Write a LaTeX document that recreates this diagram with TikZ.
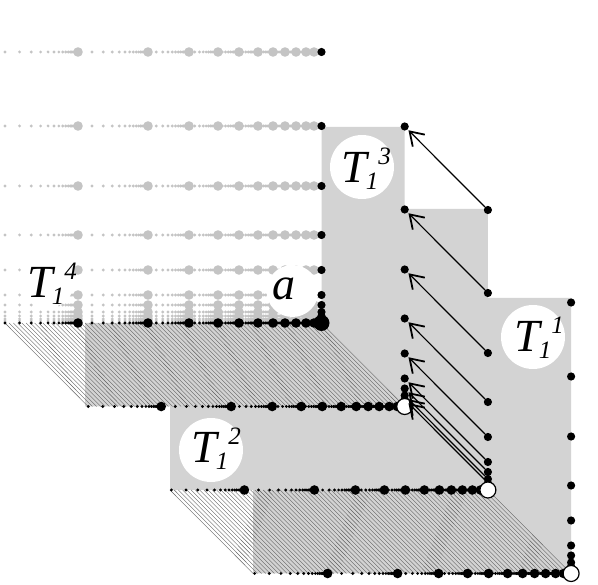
\documentclass[tikz,border=0pt]{standalone}
\usepackage{fontspec}
\setmainfont{Liberation Serif}
\usetikzlibrary{arrows.meta}
\definecolor{gfill}{RGB}{211,211,211}
\definecolor{gdot}{RGB}{196,196,196}
\definecolor{hatchc}{RGB}{95,95,95}

\newcommand\bigxs{78,148,189,218,239,258,273,285,296,306,314,321}
% #1 y, #2 x shift, #3 colour, #4 small radius, #5 big radius
\newcommand\dotrow[5]{%
  \xdef\prevx{5}%
  \fill[#3] (5+#2,#1) circle[radius=#4pt];
  \foreach \bx in \bigxs {%
    \pgfmathsetmacro\LL{\bx-\prevx}%
    \foreach \jj in {1,...,16} {%
      \pgfmathsetmacro\dd{\LL*0.8^\jj}%
      \ifdim\dd pt>3pt
        \fill[#3] (\bx-\dd+#2,#1) circle[radius=#4pt];
      \fi
    }%
    \ifdim\bx pt<320pt \fill[#3] (\bx+#2,#1) circle[radius=#5pt];\fi
    \xdef\prevx{\bx}%
  }%
}
\newcommand\Tl[1]{\fontsize{46}{46}\selectfont\itshape T\kern-1pt\raisebox{-7pt}{\fontsize{25}{25}\selectfont 1}\kern0pt\raisebox{18pt}{\fontsize{25}{25}\selectfont #1}}

\tikzset{
  bdot/.style={circle,fill=black,inner sep=0pt,minimum size=8.2pt},
  wdot/.style={circle,fill=white,draw=black,line width=1.2pt,inner sep=0pt,minimum size=16pt},
  adot/.style={circle,fill=black,inner sep=0pt,minimum size=16pt},
  wbg/.style={circle,fill=white,inner sep=0pt},
  hatch/.style={draw=hatchc,line width=0.38pt},
  arr/.style={line width=1.2pt,-{Straight Barb[length=13pt,width=17pt,line width=1.8pt]},shorten >=1pt},
  lab/.style={anchor=base west,inner sep=0pt}
}

\begin{document}
\begin{tikzpicture}[x=1pt,y=-1pt]
\useasboundingbox (0,0) rectangle (598,585);

% gray staircase region
\fill[gfill] (321.5,127) -- (404.7,127) -- (404.7,209) -- (487.9,209) -- (487.9,298)
  -- (571.1,298) -- (571.1,573.5) -- (253,573.5) -- (253,490) -- (170,490)
  -- (170,406.5) -- (85,406.5) -- (85,323) -- (321.5,323) -- cycle;

% hatching
\foreach \t in {0,...,75} {
  \draw[hatch] (5+\t*4.22,323) -- ++(83.2,83.5);
  \draw[hatch] (170+\t*4.239,490) -- ++(83.2,83.5);
}

% gray grid of points
\foreach \D in {271,197,137,88,53,28,18,11,7,4,2} {
  \dotrow{323-\D}{0}{gdot}{1.6}{4.8}
}

% white label backgrounds
\node[wbg,minimum size=56pt] (bg4) at (47,280) {};
\node[wbg,minimum size=52pt] (bga) at (292.5,291) {};
\node[wbg,minimum size=64pt] (bg3) at (362,167) {};
\node[wbg,minimum size=64pt] (bg1) at (533,337) {};
\node[wbg,minimum size=64pt] (bg2) at (211,450) {};

% black rows
\dotrow{323}{0}{black}{1.6}{4.8}
\dotrow{406.5}{83.2}{black}{1.6}{4.8}
\dotrow{490}{166.4}{black}{1.6}{4.8}
\dotrow{573.5}{249.6}{black}{1.6}{4.8}

% black columns
\foreach \D [count=\i] in {271,197,137,88,53,28,18,11,7,4,2} {
  \node[bdot] (k0-\i) at (321.5,323-\D) {};
  \node[bdot] (k3-\i) at (571.1,573.5-\D) {};
}
\foreach \D [count=\i] in {280,197,137,88,53,28,18,11,7,4,2} {
  \node[bdot] (k1-\i) at (404.7,406.5-\D) {};
  \node[bdot] (k2-\i) at (487.9,490-\D) {};
}

\node[adot] (a) at (321.5,323) {};
\node[wdot] (e1) at (404.7,406.5) {};

% arrows
\foreach \i in {1,...,9} {
  \draw[arr] (k2-\i) -- (k1-\i);
}

\node[wdot] (e2) at (487.9,490) {};
\node[wdot] (e3) at (571.1,573.5) {};

% labels
\node[lab] (t4) at (27,298) {\Tl{4}};
\node[lab] (ta) at (272,300) {\fontsize{46}{46}\selectfont\itshape a};
\node[lab] (t3) at (341,183) {\Tl{3}};
\node[lab] (t1) at (514,352) {\Tl{1}};
\node[lab] (t2) at (191,463) {\Tl{2}};
\end{tikzpicture}
\end{document}
